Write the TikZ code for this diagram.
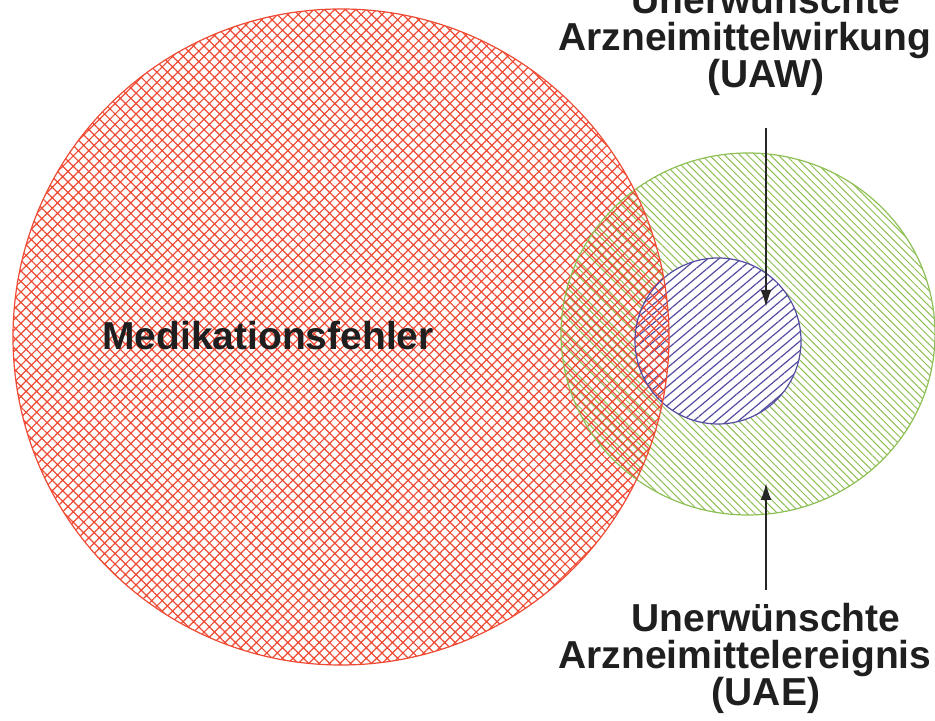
\documentclass[tikz,border=0pt]{standalone}
\usepackage{fontspec}
\setmainfont{Liberation Sans}
\usepackage{xcolor}
\usetikzlibrary{arrows.meta,patterns.meta}

\definecolor{errred}{RGB}{238,74,52}
\definecolor{uaegreen}{RGB}{141,191,84}
\definecolor{uawblue}{RGB}{84,76,160}

\begin{document}
\begin{tikzpicture}[x=0.5pt,y=0.5pt,
 setlabel/.style={font=\fontsize{19.5}{18.5}\selectfont\bfseries,
   align=center,inner sep=0pt,text=black!88},
 pointer/.style={-{Latex[length=8.5pt,width=5.5pt]},draw=black!85,line width=1pt},
 edge/.style={line width=0.6pt}
]
\useasboundingbox (0,0) rectangle (935,721);

\coordinate (mfc) at (341,384);
\coordinate (uaec) at (748,387);
\coordinate (uawc) at (718,380);

% hatched sets
\path[pattern={Lines[angle=-45,distance=2.7pt,line width=0.5pt]},
  pattern color=uaegreen] (uaec) ellipse (187 and 181);
\fill[white] (uawc) circle (83);
\path[pattern={Lines[angle=40,distance=3.6pt,line width=0.6pt]},
  pattern color=uawblue] (uawc) circle (83);
\path[pattern={Hatch[angle=45,distance=3.7pt,line width=0.6pt]},
  pattern color=errred] (mfc) circle (328);

\draw[edge,uaegreen] (uaec) ellipse (187 and 181);
\draw[edge,uawblue] (uawc) circle (83);
\draw[edge,errred] (mfc) circle (328);

% labels
\node[setlabel,anchor=base] (mf) at (268,371) {Medikationsfehler};
\node[setlabel,anchor=north] (uaw) at (766,736)
 {Unerwünschte\\\hspace*{-21pt}Arzneimittelwirkung\\(UAW)};
\node[setlabel,anchor=north] (uae) at (766,118)
 {Unerwünschte\\\hspace*{-21pt}Arzneimittelereignis\\(UAE)};

\coordinate (uawtip) at (766,414);
\coordinate (uaetip) at (766,238);
\draw[pointer,shorten <=16pt] (uaw.south) -- (uawtip);
\draw[pointer,shorten <=6.5pt] (uae.north) -- (uaetip);
\end{tikzpicture}
\end{document}
